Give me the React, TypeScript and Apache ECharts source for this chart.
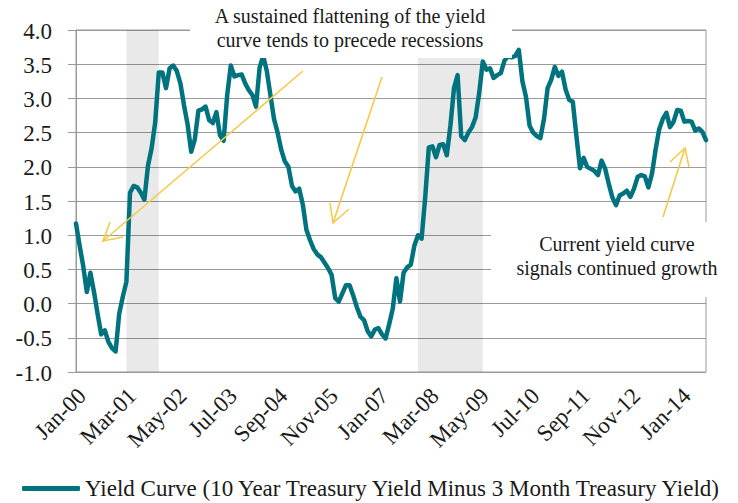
import React, { useEffect, useRef } from "react";
import * as echarts from "echarts";

const monthNames = ["Jan", "Feb", "Mar", "Apr", "May", "Jun", "Jul", "Aug", "Sep", "Oct", "Nov", "Dec"];
const startYear = 2000;
const monthCount = 176; // Jan-00 .. Aug-14
const xLabelStep = 14;

const categories: string[] = [];
for (let i = 0; i < monthCount; i++) {
  const y = startYear + Math.floor(i / 12);
  categories.push(monthNames[i % 12] + "-" + String(y % 100).padStart(2, "0"));
}

const yTicks = [-1, -0.5, 0, 0.5, 1, 1.5, 2, 2.5, 3, 3.5, 4];

const yieldCurve = [
  1.17, 0.85, 0.55, 0.17, 0.45, 0.17, -0.15, -0.45, -0.39, -0.56, -0.65, -0.7,
  -0.15, 0.1, 0.32, 1.62, 1.72, 1.7, 1.62, 1.52, 2.02, 2.27, 2.65, 3.38,
  3.38, 3.15, 3.44, 3.48, 3.4, 3.22, 2.9, 2.62, 2.22, 2.4, 2.82, 2.84,
  2.88, 2.68, 2.64, 2.8, 2.46, 2.38, 3.05, 3.48, 3.32, 3.34, 3.35, 3.22,
  3.12, 3.05, 2.88, 3.45, 3.62, 3.4, 3.05, 2.7, 2.5, 2.25, 2.08, 2.0,
  1.72, 1.64, 1.68, 1.45, 1.08, 0.93, 0.8, 0.72, 0.68, 0.6, 0.52, 0.42,
  0.08, 0.03, 0.15, 0.27, 0.27, 0.12, -0.05, -0.19, -0.24, -0.4, -0.48, -0.38,
  -0.36, -0.45, -0.51, -0.3, -0.07, 0.37, 0.03, 0.45, 0.53, 0.57, 0.85, 1.0,
  0.95, 1.55, 2.28, 2.3, 2.14, 2.32, 2.33, 2.17, 2.6, 3.15, 3.34, 2.45,
  2.39, 2.5, 2.58, 2.72, 3.08, 3.54, 3.42, 3.44, 3.3, 3.34, 3.37, 3.55,
  3.62, 3.6, 3.62, 3.71, 3.25, 3.02, 2.6, 2.5, 2.45, 2.42, 2.7, 3.15,
  3.27, 3.46, 3.33, 3.39, 3.13, 2.98, 2.95, 2.45, 1.98, 2.13, 2.0, 1.97,
  1.94, 1.88, 2.09, 1.97, 1.75, 1.55, 1.44, 1.58, 1.61, 1.65, 1.56, 1.68,
  1.85, 1.88, 1.86, 1.7, 1.9, 2.25, 2.55, 2.7, 2.79, 2.58, 2.66, 2.83,
  2.82, 2.66, 2.67, 2.66, 2.53, 2.56, 2.51, 2.39,
];

const recessions = [
  ["Mar-01", "Dec-01"],
  ["Dec-07", "Jun-09"],
];

const seriesName = "Yield Curve (10 Year Treasury Yield Minus 3 Month Treasury Yield)";
const topNote = ["A sustained flattening of the yield", "curve tends to precede recessions"];
const bottomNote = ["Current yield curve", "signals continued growth"];

const FONT = "Liberation Serif";
const TEXT = "#1a1a1a";
const GRID = "#9a9a9a";
const ARROW = "#F5C94A";

function textEl(text: string, x: number, y: number, size: number, align: string, extra: any = {}) {
  return {
    type: "text",
    z: 110,
    ...extra,
    style: {
      text,
      x: extra.x !== undefined ? 0 : x,
      y: extra.y !== undefined ? 0 : y,
      fill: TEXT,
      font: `${size}px "Liberation Serif"`,
      fontSize: size,
      fontFamily: FONT,
      align,
      verticalAlign: "middle",
      textAlign: align,
      textVerticalAlign: "middle",
    },
  };
}

function arrow(x1: number, y1: number, x2: number, y2: number, h1: number[], h2: number[]) {
  return [
    { type: "line", z: 105, shape: { x1, y1, x2, y2 }, style: { stroke: ARROW, lineWidth: 1.6 } },
    {
      type: "polyline",
      z: 105,
      shape: { points: [h1, [x2, y2], h2] },
      style: { stroke: ARROW, lineWidth: 1.6, fill: "none" },
    },
  ];
}

export default function App() {
  const ref = useRef<HTMLDivElement>(null);
  useEffect(() => {
    if (!ref.current) return;
    const chart = echarts.init(ref.current, null, { renderer: "svg" });
    chart.setOption({
      animation: false,
      backgroundColor: "#ffffff",
      textStyle: { fontFamily: FONT, color: TEXT },
      grid: {
        left: 76,
        right: 32,
        top: 30,
        bottom: 131,
        show: true,
        borderColor: GRID,
        borderWidth: 1,
        backgroundColor: "transparent",
      },
      legend: {
        data: [seriesName],
        left: 22,
        top: 477,
        padding: 0,
        icon: "roundRect",
        itemWidth: 58,
        itemHeight: 5,
        textStyle: { fontFamily: FONT, fontSize: 23, color: TEXT },
      },
      xAxis: {
        type: "category",
        data: categories,
        boundaryGap: false,
        axisLine: { show: true, lineStyle: { color: GRID, width: 1 } },
        axisTick: { show: false },
        splitLine: { show: false },
        axisLabel: { show: false },
      },
      yAxis: {
        type: "value",
        min: -1,
        max: 4,
        interval: 0.5,
        axisLine: { show: true, lineStyle: { color: GRID, width: 1 } },
        axisTick: { show: true, length: 8, lineStyle: { color: GRID, width: 1 } },
        splitLine: { show: true, lineStyle: { color: GRID, width: 1 } },
        axisLabel: { show: false },
      },
      series: [
        {
          name: seriesName,
          type: "line",
          data: yieldCurve,
          symbol: "none",
          lineStyle: { color: "#00737F", width: 4.5, join: "round", cap: "round" },
          itemStyle: { color: "#00737F" },
          markArea: {
            silent: true,
            itemStyle: { color: "rgba(0,0,0,0.085)" },
            data: recessions.map(([a, b]) => [{ xAxis: a }, { xAxis: b }]),
          },
        },
      ],
    });

    const axisY = chart.convertToPixel({ yAxisIndex: 0 }, -1) as number;
    const axisX = chart.convertToPixel({ xAxisIndex: 0 }, categories[0]) as number;
    const yLabels = yTicks.map((v) => {
      const py = chart.convertToPixel({ yAxisIndex: 0 }, v) as number;
      return textEl(v.toFixed(1), axisX - 24, py + 1, 23, "right");
    });
    const xLabels = categories
      .filter((_, i) => i % xLabelStep === 0)
      .map((c) => {
        const px = chart.convertToPixel({ xAxisIndex: 0 }, c) as number;
        return textEl(c, 0, 0, 23, "right", { x: px + 6, y: axisY + 20, rotation: Math.PI / 4 });
      });

    chart.setOption({
      graphic: [
        { type: "rect", z: 100, shape: { x: 190, y: 0, width: 322, height: 58 }, style: { fill: "#ffffff" } },
        { type: "rect", z: 100, shape: { x: 491, y: 222, width: 240, height: 75 }, style: { fill: "#ffffff" } },
        textEl(topNote[0], 350, 15.5, 20, "center"),
        textEl(topNote[1], 350, 40, 20, "center"),
        textEl(bottomNote[0], 617, 244, 20, "center"),
        textEl(bottomNote[1], 617, 268, 20, "center"),
        ...arrow(303, 71, 103, 241, [110, 222], [123, 237]),
        ...arrow(382, 77, 333, 223, [330, 203], [349, 209]),
        ...arrow(663, 217, 685, 148, [670, 162], [689, 167]),
        ...yLabels,
        ...xLabels,
      ],
    });
    return () => chart.dispose();
  }, []);
  return <div ref={ref} style={{ position: "absolute", left: 0, top: 0, width: 738, height: 503 }} />;
}
